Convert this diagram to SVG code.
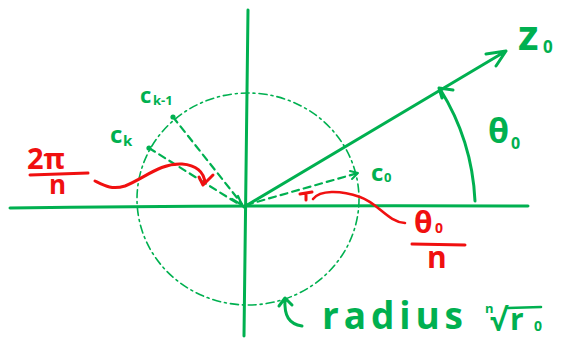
<svg xmlns="http://www.w3.org/2000/svg" width="567" height="339" viewBox="0 0 567 339">
<style>
.g{stroke:#00b050;fill:none;stroke-linecap:round;stroke-linejoin:round}
.r{stroke:#f01010;fill:none;stroke-linecap:round;stroke-linejoin:round}
.ax{stroke-width:3}
.dash{stroke-width:2.2;stroke-dasharray:7 5}
.circ{stroke-width:1.6;stroke-dasharray:8 4 2 4}
.tg{fill:#00b050;font-family:"Open Sans","Liberation Sans",sans-serif;font-weight:bold}
.tr{fill:#f01010;font-family:"Open Sans","Liberation Sans",sans-serif;font-weight:bold}
</style>
<rect width="567" height="339" fill="#fff"/>
<g id="axes">
<path class="g ax" d="M10,208 Q260,205 528,206"/>
<path class="g ax" d="M248,10 Q246,150 244,336"/>
</g>
<g id="circle">
<ellipse class="g circ" cx="248" cy="199" rx="111" ry="106"/>
</g>
<g id="z0">
<path class="g ax" d="M244,207 L506,51 M486,54 L506,51 L496,66"/>
<text class="tg" x="518" y="50" font-size="42">z</text>
<text class="tg" x="543" y="53" font-size="17">0</text>
</g>
<g id="theta0">
<path class="g ax" d="M475,201 A231,231 0 0 0 440,89 M453,90 L439,88 L442,98"/>
<text class="tg" x="488" y="143" font-size="34">θ</text>
<text class="tg" x="511" y="149" font-size="16">0</text>
</g>
<g id="c0">
<text class="tg" x="371" y="181" font-size="24">c</text>
<text class="tg" x="384" y="182" font-size="13">0</text>
</g>
<g id="ck1">
<circle cx="173" cy="117" r="2.6" fill="#00b050"/>
<text class="tg" x="140" y="103" font-size="22">c</text>
<text class="tg" x="153" y="105" font-size="13">k-1</text>
</g>
<g id="ck">
<circle cx="149" cy="148" r="2.6" fill="#00b050"/>
<text class="tg" x="110" y="143" font-size="24">c</text>
<text class="tg" x="123" y="146" font-size="15">k</text>
</g>
<g id="connectors">
<path class="g dash" d="M246,205 L358,173"/>
<path class="g" stroke-width="2" d="M350,171 L358,173 L352,179"/>
<path class="g dash" d="M173,117 L242,204"/>
<path class="g dash" d="M149,148 L240,205"/>
<path class="g" stroke-width="2.2" d="M232,199 L242,205 L238,196"/>
<path class="r" stroke-width="3" d="M95,181 C105,186 112,190 125,186 C145,178 160,163 182,164 C196,165 204,172 205,183 M199,177 L203,185 L213,175"/>
<path class="r" stroke-width="2.6" d="M405,223 C388,222 378,203 360,197 C340,190 320,190 313,199"/>
<path class="r" stroke-width="3" d="M300,194 L312,192 M306,193 L306,200"/>
<path class="g" stroke-width="3" d="M302,326 C289,324 284,316 285,299 M279,306 L285,298 L292,305"/>
</g>
<g id="label-2pi-n">
<text class="tr" x="27" y="169" font-size="29">2π</text>
<path class="r" stroke-width="3" d="M30,175 L88,173"/>
<text class="tr" x="49" y="194" font-size="26">n</text>
</g>
<g id="label-theta-n">
<text class="tr" x="414" y="233" font-size="30">θ</text>
<text class="tr" x="435" y="233" font-size="14">0</text>
<path class="r" stroke-width="3" d="M412,244 L465,245"/>
<text class="tr" x="427" y="268" font-size="30">n</text>
</g>
<g id="label-radius">
<text class="tg" x="322" y="329" font-size="37" textLength="141" lengthAdjust="spacing">radius</text>
<text class="tg" x="485" y="313" font-size="13">n</text>
<text class="tg" x="490" y="331" font-size="30">√</text>
<path class="g" stroke-width="2.6" d="M508,308 L541,307"/>
<text class="tg" x="510" y="330" font-size="30">r</text>
<text class="tg" x="534" y="331" font-size="14">0</text>
</g>
</svg>
